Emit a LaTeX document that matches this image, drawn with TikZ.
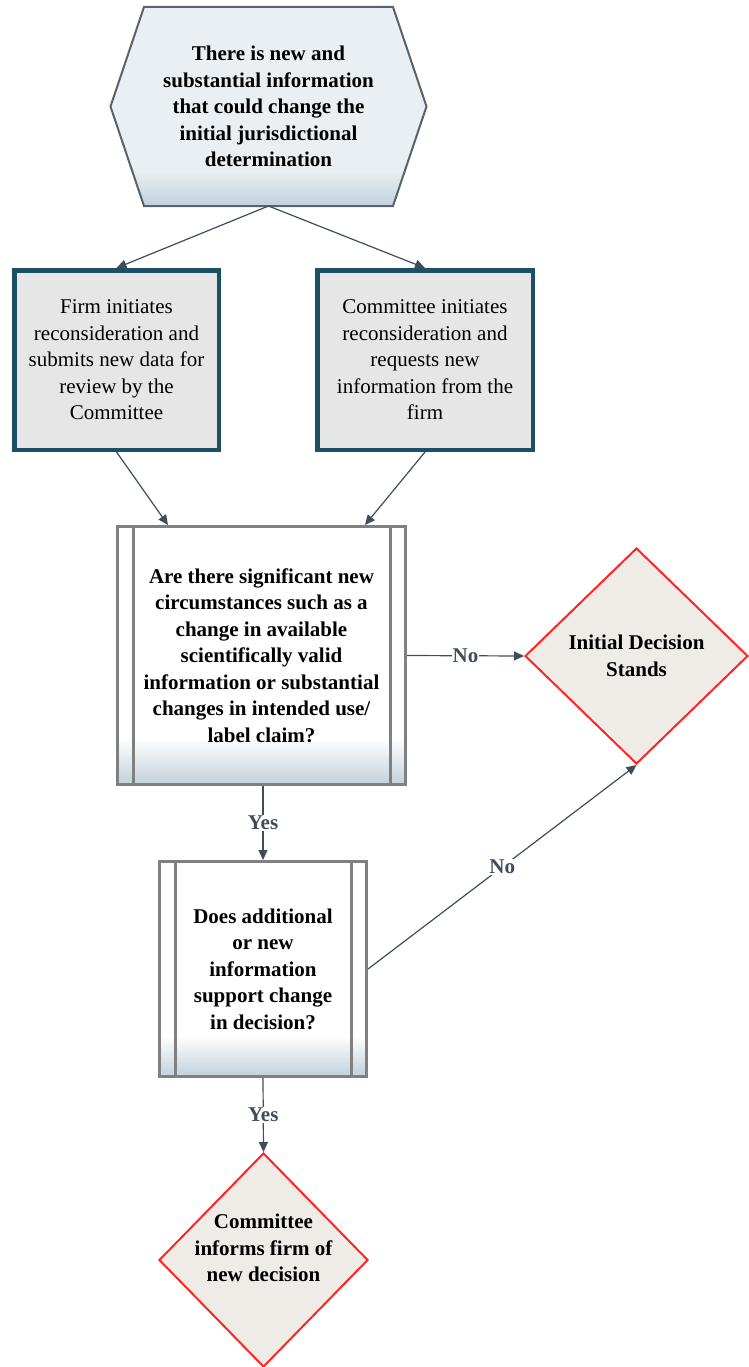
\documentclass[tikz,border=0pt]{standalone}
\usepackage{fontspec}
\setmainfont{Liberation Serif}
\usetikzlibrary{shapes.geometric,arrows.meta,calc,backgrounds}
\definecolor{hexfill}{HTML}{E9EFF3}
\definecolor{gradc}{HTML}{C3D2DC}
\definecolor{hexborder}{HTML}{59636C}
\definecolor{tealc}{HTML}{1E5064}
\definecolor{boxgray}{HTML}{E6E6E6}
\definecolor{procgray}{HTML}{808080}
\definecolor{redc}{HTML}{FF2525}
\definecolor{diamc}{HTML}{EFEBE7}
\definecolor{arrowc}{HTML}{3F4C5C}
\newcommand{\myfont}{\fontsize{21pt}{26.5pt}\selectfont}
% stepped gradient band: #1 = south west, #2 = south east, #3 = height, #4 = top colour
\newcommand{\myband}[4]{%
  \foreach \i in {1,...,24}{%
    \pgfmathsetmacro\p{\i*100/24}%
    \pgfmathsetmacro\h{#3*(1-(\i-1)/24)}%
    \fill[gradc!\p!#4] ([yshift=\h pt]#1) rectangle (#2);
  }}
\tikzset{
  arr/.style={draw=arrowc, line width=1.2pt, -{Triangle[length=10pt,width=9pt]}},
  lbl/.style={fill=white, text=arrowc, font=\myfont\bfseries, inner sep=1pt},
  hexin/.style={minimum width=247pt, minimum height=197pt, inner sep=0pt, outer sep=1pt, align=center, font=\myfont\bfseries},
  firmbox/.style={draw=tealc, line width=4.5pt, fill=boxgray, align=center, inner sep=0pt, font=\myfont},
  procbox/.style={draw=procgray, line width=3pt, fill=white, align=center, inner sep=0pt, font=\myfont\bfseries,
    path picture={
      \myband{path picture bounding box.south west}{path picture bounding box.south east}{#1}{white}
      \draw[procgray, line width=3pt] ([xshift=15.5pt]path picture bounding box.south west) -- ([xshift=15.5pt]path picture bounding box.north west);
      \draw[procgray, line width=3pt] ([xshift=-15.5pt]path picture bounding box.south east) -- ([xshift=-15.5pt]path picture bounding box.north east);
    }},
  decision/.style={diamond, draw=redc, line width=2pt, fill=diamc, align=center, inner sep=0pt, font=\myfont\bfseries}
}
\begin{document}
\begin{tikzpicture}[x=1pt,y=-1pt]
\useasboundingbox (0,0) rectangle (748,1367);

% hexagon
\node[hexin] (hex) at (268.5,106.5) {There is new and\\substantial information\\that could change the\\initial jurisdictional\\determination};
\coordinate (hexsw) at ($(hex.south west)+(-40pt,0pt)$);
\coordinate (hexse) at ($(hex.south east)+(40pt,0pt)$);
\begin{scope}[on background layer]
  \path[fill=hexfill] (hex.north west) -- (hex.north east) -- ($(hex.east)+(33.5pt,0pt)$) -- (hex.south east) -- (hex.south west) -- ($(hex.west)+(-33.5pt,0pt)$) -- cycle;
  \begin{scope}
    \clip (hex.north west) -- (hex.north east) -- ($(hex.east)+(33.5pt,0pt)$) -- (hex.south east) -- (hex.south west) -- ($(hex.west)+(-33.5pt,0pt)$) -- cycle;
    \myband{hexsw}{hexse}{34}{hexfill}
  \end{scope}
  \draw[hexborder, line width=2pt, line join=miter] (hex.north west) -- (hex.north east) -- ($(hex.east)+(33.5pt,0pt)$) -- (hex.south east) -- (hex.south west) -- ($(hex.west)+(-33.5pt,0pt)$) -- cycle;
\end{scope}

% firm / committee boxes
\node[firmbox, minimum width=204.5pt, minimum height=179.5pt] (firm) at (116.5,360) {Firm initiates\\reconsideration and\\submits new data for\\review by the\\Committee};
\node[firmbox, minimum width=215.5pt, minimum height=179.5pt] (comm) at (425,360) {Committee initiates\\reconsideration and\\requests new\\information from the\\firm};

% process boxes
\node[procbox=45, minimum width=288pt, minimum height=258pt] (proc1) at (261.5,655.5) {Are there significant new\\circumstances such as a\\change in available\\scientifically valid\\information or substantial\\changes in intended use/\\label claim?};
\node[procbox=40, minimum width=207pt, minimum height=215pt] (proc2) at (263,969) {Does additional\\or new\\information\\support change\\in decision?};

% decisions
\node[decision, minimum width=223pt, minimum height=216pt] (stands) at (636.5,656) {Initial Decision\\Stands};
\node[decision, minimum width=209pt, minimum height=214pt] (inform) at (263.5,1260) {};
\node[align=center, font=\myfont\bfseries, inner sep=0pt] (informtext) at (263.5,1248) {Committee\\informs firm of\\new decision};

% connectors
\draw[arr] (hex.south) -- (firm.north);
\draw[arr] (hex.south) -- (comm.north);
\draw[arr] (firm.south) -- ([xshift=-93.5pt]proc1.north);
\draw[arr] (comm.south) -- ([xshift=103.5pt]proc1.north);
\draw[arr] (proc1.east) -- node[lbl] (no1) {No} (stands.west);
\draw[arr] (proc1.south -| proc2.north) -- node[lbl] (yes1) {Yes} (proc2.north);
\draw[arr] (proc2.east) -- node[lbl] (no2) {No} (stands.south);
\draw[arr] (proc2.south) -- node[lbl] (yes2) {Yes} (inform.north);
\end{tikzpicture}
\end{document}
